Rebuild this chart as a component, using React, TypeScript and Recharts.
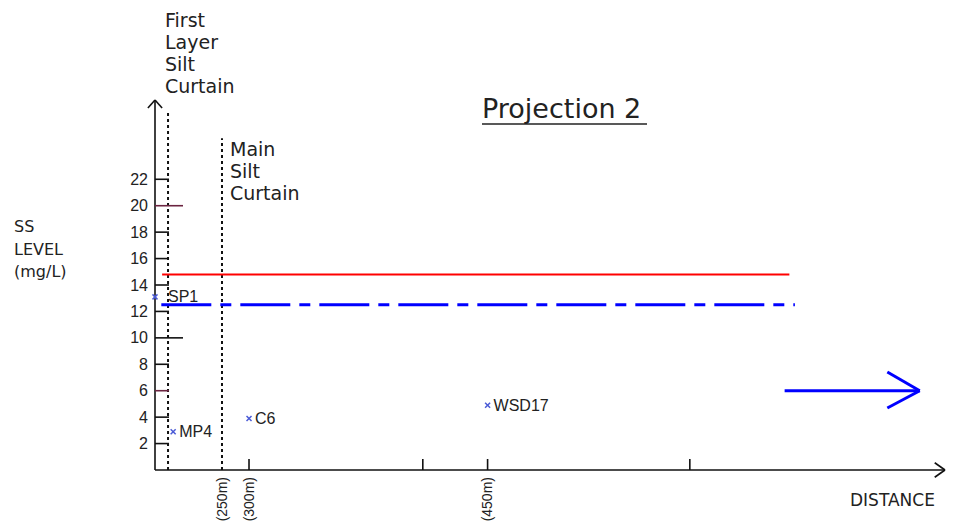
import React from "react";
import {
  ScatterChart,
  Scatter,
  XAxis,
  YAxis,
  ReferenceLine,
} from "recharts";

// monitoring stations (schematic distance units along the projection)
const pointNames = ["SP1", "MP4", "C6", "WSD17"];
const pointDistances = [0, 2.3, 11.9, 42.1];
const pointLevels = [13.1, 2.9, 3.9, 4.9];

const yTicks = [2, 4, 6, 8, 10, 12, 14, 16, 18, 20, 22];
const xTickValues = [8.5, 11.9, 33.9, 42.1, 67.7];
const xTickLabels = ["(250m)", "(300m)", "", "(450m)", ""];

const actionLevel = 14.8;
const alertLevel = 12.5;
const levelStart = 0.8;
const levelEnd = [80.3, 81.0];

const firstCurtain = 1.65;
const mainCurtain = 8.48;

const W = 959;
const H = 524;
const TXT = "#222";
const LABEL_FONT = "'DejaVu Sans', sans-serif";
const NUM_FONT = "'Liberation Sans', Arial, sans-serif";

const points = pointNames.map((name, i) => ({
  name,
  x: pointDistances[i],
  y: pointLevels[i],
}));

const labelDx: Record<string, number> = { SP1: 13 };

function YTick(props: any) {
  const { x, y, payload } = props;
  const v = payload.value;
  const long = v === 20 || v === 10;
  return (
    <g>
      <line
        x1={x + 7}
        x2={x + 7 + (long ? 28 : 14)}
        y1={y}
        y2={y}
        stroke={v === 20 || v === 6 ? "#6b2440" : "#111"}
        strokeWidth={1.6}
      />
      <text
        x={x}
        y={y}
        textAnchor="end"
        dominantBaseline="central"
        fontFamily={NUM_FONT}
        fontSize={16}
        fill={TXT}
      >
        {v}
      </text>
    </g>
  );
}

function XTick(props: any) {
  const { x, y, payload, index } = props;
  const label = xTickLabels[index] ?? "";
  const isCurtain = Math.abs(payload.value - mainCurtain) < 0.1;
  return (
    <g>
      {!isCurtain && (
        <line x1={x} x2={x} y1={y - 7} y2={y - 18} stroke="#111" strokeWidth={1.6} />
      )}
      {label && (
        <text
          x={x}
          y={y}
          transform={`rotate(-90, ${x}, ${y})`}
          textAnchor="end"
          dy="0.35em"
          fontFamily={NUM_FONT}
          fontSize={14}
          fill={TXT}
        >
          {label}
        </text>
      )}
    </g>
  );
}

function StationMark(props: any) {
  const { cx, cy, payload } = props;
  const s = 2.5;
  return (
    <g>
      <line x1={cx - s} x2={cx + s} y1={cy - s} y2={cy + s} stroke="#4b5bd6" strokeWidth={1.5} />
      <line x1={cx - s} x2={cx + s} y1={cy + s} y2={cy - s} stroke="#4b5bd6" strokeWidth={1.5} />
      <text
        x={cx + (labelDx[payload.name] ?? 6)}
        y={cy}
        dominantBaseline="central"
        fontFamily={NUM_FONT}
        fontSize={16}
        fill={TXT}
      >
        {payload.name}
      </text>
    </g>
  );
}

export default function App() {
  return (
    <div
      style={{
        position: "absolute",
        left: 0,
        top: 0,
        width: W,
        height: H,
        background: "#fff",
      }}
    >
      <ScatterChart
        width={W}
        height={H}
        margin={{ top: 100, right: 14, bottom: 4, left: 95 }}
      >
        <XAxis
          type="number"
          dataKey="x"
          domain={[0, 100]}
          ticks={xTickValues}
          interval={0}
          tick={<XTick />}
          tickLine={false}
          tickSize={0}
          tickMargin={7}
          height={50}
          axisLine={{ stroke: "#111", strokeWidth: 1.6 }}
        />
        <YAxis
          type="number"
          dataKey="y"
          domain={[0, 28]}
          ticks={yTicks}
          interval={0}
          tick={<YTick />}
          tickLine={false}
          tickSize={0}
          tickMargin={7}
          width={60}
          axisLine={{ stroke: "#111", strokeWidth: 1.6 }}
        />
        {/* axis arrowheads */}
        <ReferenceLine segment={[{ x: -0.9, y: 27.4 }, { x: 0, y: 28 }]} stroke="#111" strokeWidth={1.6} ifOverflow="visible" />
        <ReferenceLine segment={[{ x: 0.9, y: 27.4 }, { x: 0, y: 28 }]} stroke="#111" strokeWidth={1.6} ifOverflow="visible" />
        <ReferenceLine segment={[{ x: 98.7, y: 0.55 }, { x: 100, y: 0 }]} stroke="#111" strokeWidth={1.6} ifOverflow="visible" />
        <ReferenceLine segment={[{ x: 98.7, y: -0.55 }, { x: 100, y: 0 }]} stroke="#111" strokeWidth={1.6} ifOverflow="visible" />

        {/* silt curtains */}
        <ReferenceLine segment={[{ x: firstCurtain, y: 0 }, { x: firstCurtain, y: 27.1 }]} stroke="#111" strokeWidth={2} strokeDasharray="3 3" ifOverflow="visible" />
        <ReferenceLine segment={[{ x: mainCurtain, y: 0 }, { x: mainCurtain, y: 25.1 }]} stroke="#111" strokeWidth={2} strokeDasharray="3 3" ifOverflow="visible" />

        {/* action / alert levels */}
        <ReferenceLine segment={[{ x: levelStart + 0.1, y: actionLevel }, { x: levelEnd[0], y: actionLevel }]} stroke="#ff0000" strokeWidth={2} ifOverflow="visible" />
        <ReferenceLine segment={[{ x: levelStart, y: alertLevel }, { x: levelEnd[1], y: alertLevel }]} stroke="#0000ff" strokeWidth={3} strokeDasharray="50 9 11 9" ifOverflow="visible" />

        {/* direction arrow */}
        <ReferenceLine segment={[{ x: 79.7, y: 6 }, { x: 96.8, y: 6 }]} stroke="#0000ff" strokeWidth={3} ifOverflow="visible" />
        <ReferenceLine segment={[{ x: 92.7, y: 7.42 }, { x: 96.8, y: 6 }]} stroke="#0000ff" strokeWidth={3} ifOverflow="visible" />
        <ReferenceLine segment={[{ x: 92.7, y: 4.69 }, { x: 96.8, y: 6 }]} stroke="#0000ff" strokeWidth={3} ifOverflow="visible" />

        <Scatter data={points} shape={<StationMark />} isAnimationActive={false} />
      </ScatterChart>

      <svg
        width={W}
        height={H}
        style={{ position: "absolute", left: 0, top: 0, pointerEvents: "none" }}
      >
        <g fontFamily={LABEL_FONT} fill={TXT} fontSize={19}>
          <text x={165} y={27}>First</text>
          <text x={165} y={49}>Layer</text>
          <text x={165} y={71}>Silt</text>
          <text x={165} y={93}>Curtain</text>
          <text x={230} y={156}>Main</text>
          <text x={230} y={178}>Silt</text>
          <text x={230} y={200}>Curtain</text>
        </g>
        <g fontFamily={LABEL_FONT} fill={TXT} fontSize={16}>
          <text x={14} y={232}>SS</text>
          <text x={14} y={255}>LEVEL</text>
          <text x={14} y={277}>(mg/L)</text>
          <text x={850} y={506} fontSize={17}>DISTANCE</text>
        </g>
        <text x={482} y={118} fontFamily={LABEL_FONT} fontSize={27} fill={TXT}>
          Projection 2
        </text>
        <line x1={482} x2={647} y1={124} y2={124} stroke={TXT} strokeWidth={1.5} />
      </svg>
    </div>
  );
}
